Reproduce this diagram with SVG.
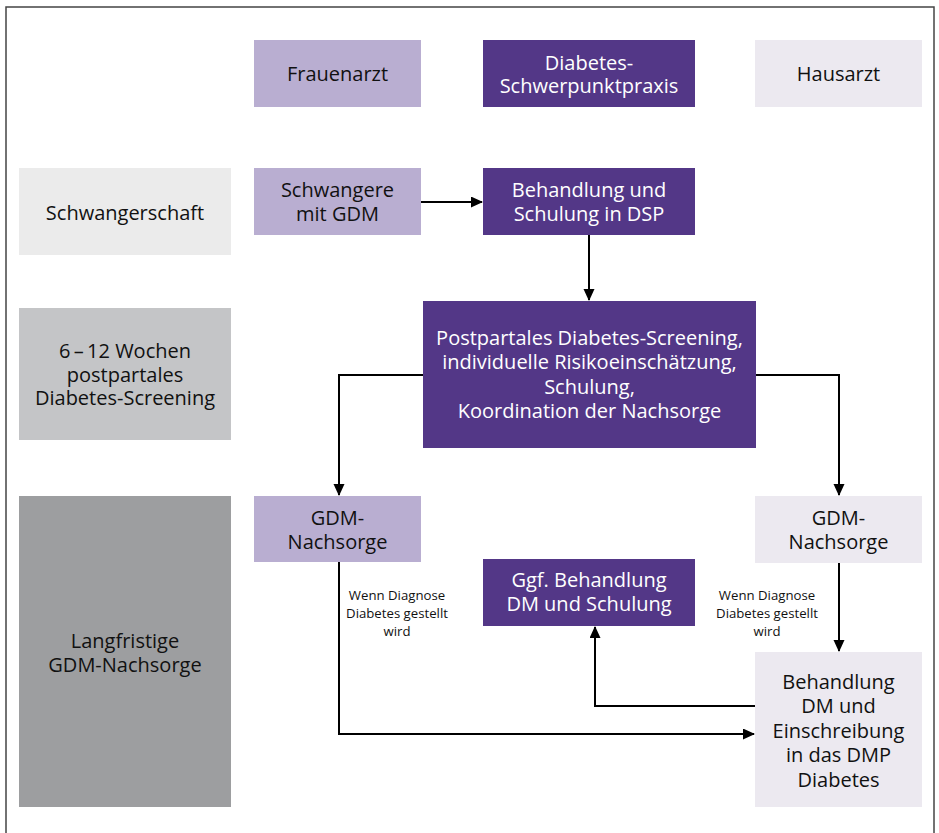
<svg xmlns="http://www.w3.org/2000/svg" width="939" height="833" viewBox="0 0 939 833">
<defs>
<style>
.t{font-family:"Open Sans","Noto Sans",sans-serif;font-size:20px;text-anchor:middle;fill:#111}
.w{fill:#fff}
.s{font-family:"Open Sans","Noto Sans",sans-serif;font-size:13.2px;text-anchor:middle;fill:#111}
.c{fill:none;stroke:#000;stroke-width:2}
.lp{fill:#b9aed1}.dp{fill:#533787}.vl{fill:#ece9f0}.g1{fill:#ebebeb}.g2{fill:#c4c5c7}.g3{fill:#9d9ea0}
</style>
<marker id="a" markerWidth="12" markerHeight="12" refX="11" refY="5.5" orient="auto" markerUnits="userSpaceOnUse">
<path d="M0,0 L12,5.5 L0,11 Z" fill="#000"/>
</marker>
</defs>
<rect width="939" height="833" fill="#fff"/>
<rect x="6" y="7" width="928" height="840" fill="none" stroke="#444" stroke-width="1.5"/>

<g id="frauenarzt"><rect class="lp" x="254" y="40" width="167" height="67"/><text class="t" x="337.5" y="81">Frauenarzt</text></g>
<g id="dsp"><rect class="dp" x="483" y="40" width="212" height="67"/><text class="t w" x="589" y="70">Diabetes-</text><text class="t w" x="589" y="93">Schwerpunktpraxis</text></g>
<g id="hausarzt"><rect class="vl" x="755" y="40" width="167" height="67"/><text class="t" x="838.5" y="81">Hausarzt</text></g>

<g id="schwangerschaft"><rect class="g1" x="19" y="168" width="212" height="87"/><text class="t" x="125" y="220">Schwangerschaft</text></g>
<g id="schwangere"><rect class="lp" x="254" y="168" width="167" height="67"/><text class="t" x="337.5" y="197">Schwangere</text><text class="t" x="337.5" y="221">mit GDM</text></g>
<g id="behandlung-dsp"><rect class="dp" x="483" y="168" width="212" height="67"/><text class="t w" x="589" y="197">Behandlung und</text><text class="t w" x="589" y="221">Schulung in DSP</text></g>

<g id="wochen"><rect class="g2" x="19" y="308" width="212" height="132"/><text class="t" x="125" y="358">6&#8201;–&#8201;12 Wochen</text><text class="t" x="125" y="382">postpartales</text><text class="t" x="125" y="405">Diabetes-Screening</text></g>
<g id="postpartal"><rect class="dp" x="423" y="301" width="333" height="147"/><text class="t w" x="589.5" y="345">Postpartales Diabetes-Screening,</text><text class="t w" x="589.5" y="369">individuelle Risikoeinschätzung,</text><text class="t w" x="589.5" y="394">Schulung,</text><text class="t w" x="589.5" y="418">Koordination der Nachsorge</text></g>

<g id="langfristig"><rect class="g3" x="19" y="496" width="212" height="311"/><text class="t" x="125" y="648">Langfristige</text><text class="t" x="125" y="672">GDM-Nachsorge</text></g>
<g id="nachsorge-fa"><rect class="lp" x="254" y="496" width="167" height="66"/><text class="t" x="337.5" y="525">GDM-</text><text class="t" x="337.5" y="549">Nachsorge</text></g>
<g id="nachsorge-ha"><rect class="vl" x="755" y="496" width="167" height="67"/><text class="t" x="838.5" y="525">GDM-</text><text class="t" x="838.5" y="549">Nachsorge</text></g>
<g id="ggf"><rect class="dp" x="483" y="559" width="212" height="67"/><text class="t w" x="589" y="587">Ggf. Behandlung</text><text class="t w" x="589" y="611">DM und Schulung</text></g>
<g id="behandlung-dm"><rect class="vl" x="755" y="652" width="167" height="155"/><text class="t" x="838.5" y="689">Behandlung</text><text class="t" x="838.5" y="713">DM und</text><text class="t" x="838.5" y="738">Einschreibung</text><text class="t" x="838.5" y="762">in das DMP</text><text class="t" x="838.5" y="787">Diabetes</text></g>

<g id="labels">
<text class="s" x="397" y="600">Wenn Diagnose</text><text class="s" x="397" y="618">Diabetes gestellt</text><text class="s" x="397" y="636">wird</text>
<text class="s" x="767" y="600">Wenn Diagnose</text><text class="s" x="767" y="618">Diabetes gestellt</text><text class="s" x="767" y="636">wird</text>
</g>

<g id="connectors">
<path class="c" d="M421,202 H482" marker-end="url(#a)"/>
<path class="c" d="M589,235 V300" marker-end="url(#a)"/>
<path class="c" d="M423,375 H339 V495" marker-end="url(#a)"/>
<path class="c" d="M756,375 H839 V495" marker-end="url(#a)"/>
<path class="c" d="M339,562 V734 H754" marker-end="url(#a)"/>
<path class="c" d="M839,563 V651" marker-end="url(#a)"/>
<path class="c" d="M755,706 H595 V627" marker-end="url(#a)"/>
</g>
</svg>
